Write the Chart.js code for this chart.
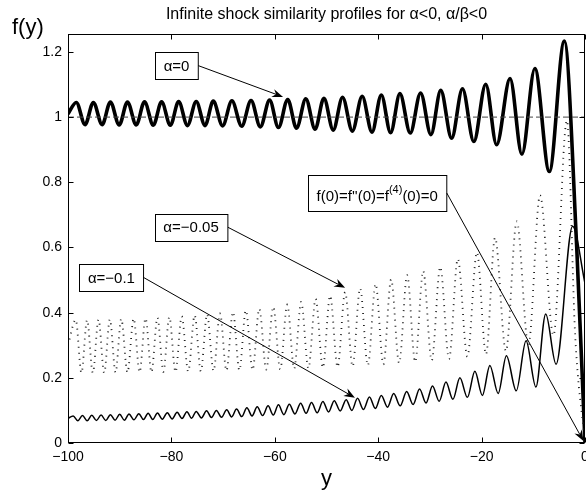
<!DOCTYPE html>
<html><head><meta charset="utf-8">
<script src="https://cdn.jsdelivr.net/npm/chart.js@4/dist/chart.umd.min.js"></script>
<style>html,body{margin:0;padding:0;background:#fff;overflow:hidden}#wrap{width:586px;height:493px;position:relative}</style>
</head><body><div id="wrap"><canvas id="c" width="586" height="493"></canvas></div>
<script>
const FONT = '"Liberation Sans", Arial, Helvetica, sans-serif';
const titleText = 'Infinite shock similarity profiles for α<0, α/β<0';
const yAxisTitle = 'f(y)';
const xAxisTitle = 'y';
const xTickValues = [-100, -80, -60, -40, -20, 0];
const xTickLabels = ['−100', '−80', '−60', '−40', '−20', '0'];
const yTickValues = [0, 0.2, 0.4, 0.6, 0.8, 1, 1.2];
const yTickLabels = ['0', '0.2', '0.4', '0.6', '0.8', '1', '1.2'];

// alpha = 0 (thick solid): start, alternating peaks/troughs, end
const alpha0X = [-100,
  -98.4, -96.7, -95.1, -93.4, -91.8, -90.1, -88.5, -86.8, -85.2, -83.5, -81.9, -80.2, -78.6, -76.9, -75.2, -73.5,
  -71.9, -70.1, -68.3, -66.4, -64.6, -62.8, -61.0, -59.3, -57.5, -55.8, -54.0, -52.2, -50.5, -48.7, -46.9, -45.0,
  -43.1, -41.2, -39.4, -37.6, -35.8, -33.8, -31.8, -29.8, -27.9, -25.8, -23.7, -21.5, -19.2, -17.1, -14.5, -12.2,
  -9.7, -6.9, -4.0,
  -1.6, 0];
const alpha0Y = [1.01,
  1.045, 0.977, 1.045, 0.977, 1.046, 0.976, 1.046, 0.976, 1.047, 0.975, 1.047, 0.975, 1.048, 0.974, 1.048, 0.974,
  1.049, 0.973, 1.050, 0.972, 1.051, 0.970, 1.052, 0.968, 1.054, 0.966, 1.056, 0.963, 1.058, 0.960, 1.061, 0.957,
  1.064, 0.954, 1.068, 0.952, 1.072, 0.951, 1.074, 0.946, 1.082, 0.935, 1.087, 0.925, 1.101, 0.915, 1.118, 0.886,
  1.149, 0.833, 1.233,
  0.6, 0];

// alpha = -0.05 (dotted)
const alpha005X = [-100,
  -98.5, -97.4, -96.3, -95.2, -94.1, -93.0, -91.9, -90.8, -89.7, -88.5, -87.3, -86.15, -85.0, -83.85, -82.7, -81.55,
  -80.4, -79.2, -78.0, -76.75, -75.5, -74.3, -73.1, -71.85, -70.6, -69.35, -68.1, -66.85, -65.6, -64.3, -63.0, -61.65,
  -60.3, -58.95, -57.6, -56.25, -54.9, -53.5, -52.1, -50.7, -49.3, -47.85, -46.4, -44.95, -43.5, -42.0, -40.5, -39.0,
  -37.5, -35.95, -34.4, -32.85, -31.3, -29.65, -28.0, -26.3, -24.6, -22.75, -20.9, -19.15, -17.4, -15.3, -13.2, -10.95,
  -8.7, -6.1, -3.5,
  -1.9, 0];
const alpha005Y = [0.30,
  0.378, 0.215, 0.378, 0.215, 0.379, 0.215, 0.380, 0.216, 0.381, 0.216, 0.382, 0.217, 0.383, 0.217, 0.385, 0.218,
  0.387, 0.218, 0.389, 0.219, 0.392, 0.220, 0.395, 0.221, 0.398, 0.222, 0.402, 0.223, 0.407, 0.224, 0.412, 0.225,
  0.418, 0.226, 0.425, 0.228, 0.433, 0.229, 0.442, 0.231, 0.452, 0.233, 0.463, 0.235, 0.475, 0.238, 0.488, 0.241,
  0.502, 0.245, 0.515, 0.249, 0.528, 0.253, 0.540, 0.258, 0.565, 0.265, 0.585, 0.272, 0.630, 0.282, 0.680, 0.300,
  0.760, 0.330, 0.990,
  0.33, 0];

// alpha = -0.1 (thin solid)
const alpha01X = [-100,
  -99.0, -98.1, -97.2, -96.3, -95.4, -94.5, -93.6, -92.7, -91.8, -90.9, -90.0, -89.1, -88.2, -87.25, -86.3, -85.4,
  -84.5, -83.6, -82.7, -81.75, -80.8, -79.85, -78.9, -77.95, -77.0, -76.1, -75.2, -74.2, -73.2, -72.25, -71.3, -70.3,
  -69.3, -68.35, -67.4, -66.4, -65.4, -64.4, -63.4, -62.35, -61.3, -60.3, -59.3, -58.25, -57.2, -56.1, -55.0, -53.95,
  -52.9, -51.8, -50.7, -49.6, -48.5, -47.35, -46.2, -45.1, -44.0, -42.85, -41.7, -40.55, -39.4, -38.2, -37.0, -35.75,
  -34.5, -33.25, -32.0, -30.75, -29.5, -28.2, -26.9, -25.55, -24.2, -22.75, -21.3, -19.85, -18.4, -16.8, -15.2, -13.3,
  -11.4, -9.5, -7.6, -5.6, -2.4,
  0];
const alpha01Y = [0.075,
  0.083, 0.068, 0.084, 0.068, 0.085, 0.069, 0.086, 0.069, 0.087, 0.070, 0.088, 0.070, 0.089, 0.071, 0.090, 0.072,
  0.091, 0.072, 0.092, 0.073, 0.093, 0.074, 0.094, 0.075, 0.096, 0.076, 0.097, 0.077, 0.099, 0.078, 0.100, 0.079,
  0.102, 0.080, 0.104, 0.081, 0.108, 0.083, 0.111, 0.084, 0.114, 0.086, 0.117, 0.087, 0.119, 0.089, 0.122, 0.091,
  0.124, 0.093, 0.127, 0.095, 0.130, 0.098, 0.133, 0.100, 0.137, 0.103, 0.141, 0.106, 0.146, 0.110, 0.152, 0.114,
  0.158, 0.118, 0.166, 0.123, 0.175, 0.128, 0.187, 0.134, 0.200, 0.140, 0.220, 0.146, 0.238, 0.152, 0.268, 0.160,
  0.314, 0.172, 0.396, 0.242, 0.665,
  0.49];

// reference line f = 1
const refX = [-100, 0];
const refY = [1, 1];

// annotation texts with box centre and arrow tip (data units)
const annotTexts = ['α=0', 'α=−0.05', 'α=−0.1', 'f(0)=f\'\'(0)=f|(4)|(0)=0'];
const annotBoxX = [-79.0, -76.2, -91.6, -40.2];
const annotBoxY = [1.158, 0.662, 0.508, 0.767];
const annotTipX = [-58.4, -46.4, -44.5, -0.3];
const annotTipY = [1.062, 0.476, 0.139, 0.006];

const pts = (xs, ys) => xs.map((x, i) => ({x: x, y: ys[i]}));

function drawArrow(ctx, x0, y0, x1, y1) {
  const ang = Math.atan2(y1 - y0, x1 - x0);
  const L = 11, W = 4.2, N = 7.5;
  ctx.beginPath();
  ctx.moveTo(x0, y0);
  ctx.lineTo(x1 - Math.cos(ang) * N, y1 - Math.sin(ang) * N);
  ctx.stroke();
  const bx = x1 - Math.cos(ang) * L, by = y1 - Math.sin(ang) * L;
  const nx = -Math.sin(ang), ny = Math.cos(ang);
  ctx.beginPath();
  ctx.moveTo(x1, y1);
  ctx.lineTo(bx + nx * W, by + ny * W);
  ctx.lineTo(x1 - Math.cos(ang) * N, y1 - Math.sin(ang) * N);
  ctx.lineTo(bx - nx * W, by - ny * W);
  ctx.closePath();
  ctx.fill();
}

const framePlugin = {
  id: 'frame',
  afterDatasetsDraw(chart) {
    const {ctx, chartArea: a, scales: {x, y}} = chart;
    ctx.save();
    ctx.strokeStyle = '#000';
    ctx.lineWidth = 1;
    const L = Math.round(a.left) + 0.5, R = Math.round(a.right) - 0.5;
    const T = Math.round(a.top) + 0.5, B = Math.round(a.bottom) - 0.5;
    ctx.strokeRect(L, T, R - L, B - T);
    ctx.beginPath();
    xTickValues.forEach(v => {
      const px = Math.round(x.getPixelForValue(v)) + 0.5;
      ctx.moveTo(px, B); ctx.lineTo(px, B - 5);
      ctx.moveTo(px, T); ctx.lineTo(px, T + 5);
    });
    yTickValues.forEach(v => {
      const py = Math.round(y.getPixelForValue(v)) + 0.5;
      ctx.moveTo(L, py); ctx.lineTo(L + 5, py);
      ctx.moveTo(R, py); ctx.lineTo(R - 5, py);
    });
    ctx.stroke();
    ctx.restore();
  },
  afterDraw(chart) {
    const {ctx, chartArea: a, scales: {x, y}} = chart;
    ctx.save();
    ctx.fillStyle = '#000';
    ctx.textBaseline = 'middle';
    ctx.textAlign = 'center';
    ctx.font = '16px ' + FONT;
    ctx.fillText(titleText, (a.left + a.right) / 2, 15);
    ctx.font = '22px ' + FONT;
    ctx.textAlign = 'left';
    ctx.textBaseline = 'alphabetic';
    ctx.fillText(yAxisTitle, 12, 34);
    ctx.textAlign = 'center';
    ctx.fillText(xAxisTitle, (a.left + a.right) / 2, 485);

    // annotations
    ctx.lineWidth = 1;
    ctx.strokeStyle = '#000';
    annotTexts.forEach((t, i) => {
      const parts = t.split('|');
      const fontN = '15px ' + FONT, fontS = '11px ' + FONT;
      let w = 0;
      parts.forEach((p, k) => { ctx.font = (k % 2 === 1) ? fontS : fontN; w += ctx.measureText(p).width; });
      const hasSup = parts.length > 1;
      const bw = w + 17, bh = hasSup ? 36 : 27;
      const cx = x.getPixelForValue(annotBoxX[i]), cy = y.getPixelForValue(annotBoxY[i]);
      const bl = Math.round(cx - bw / 2) + 0.5, bt = Math.round(cy - bh / 2) + 0.5;
      ctx.fillStyle = '#fff';
      ctx.fillRect(bl, bt, bw, bh);
      ctx.strokeRect(bl, bt, bw, bh);
      ctx.fillStyle = '#000';
      ctx.textAlign = 'left';
      ctx.textBaseline = 'middle';
      let tx = cx - w / 2;
      const ty = cy + (hasSup ? 3 : 0) + 1;
      parts.forEach((p, k) => {
        const sup = k % 2 === 1;
        ctx.font = sup ? fontS : fontN;
        ctx.fillText(p, tx, sup ? ty - 7 : ty);
        tx += ctx.measureText(p).width;
      });
      const sx = bl + bw, sy = cy;
      drawArrow(ctx, sx, sy, x.getPixelForValue(annotTipX[i]), y.getPixelForValue(annotTipY[i]));
    });
    ctx.restore();
  }
};

const tickFont = {family: FONT, size: 14};
new Chart(document.getElementById('c').getContext('2d'), {
  type: 'line',
  data: {
    datasets: [
      {label: 'f=1', data: pts(refX, refY), borderColor: '#444', borderWidth: 1, borderDash: [6, 3], pointRadius: 0, fill: false},
      {label: 'α=−0.05', data: pts(alpha005X, alpha005Y), borderColor: '#222', borderWidth: 1.8, borderDash: [1, 5], pointRadius: 0, fill: false, cubicInterpolationMode: 'monotone'},
      {label: 'α=−0.1', data: pts(alpha01X, alpha01Y), borderColor: '#000', borderWidth: 1.5, pointRadius: 0, fill: false, cubicInterpolationMode: 'monotone'},
      {label: 'α=0', data: pts(alpha0X, alpha0Y), borderColor: '#000', borderWidth: 3.6, pointRadius: 0, fill: false, cubicInterpolationMode: 'monotone'}
    ]
  },
  options: {
    animation: false,
    responsive: false,
    devicePixelRatio: 1,
    layout: {padding: {top: 34, right: 1, left: 0, bottom: 0}},
    plugins: {legend: {display: false}, tooltip: {enabled: false}, title: {display: false}},
    scales: {
      x: {
        type: 'linear', min: -100, max: 0,
        afterBuildTicks: s => { s.ticks = xTickValues.map(v => ({value: v})); },
        ticks: {autoSkip: false, maxRotation: 0, color: '#000', font: tickFont, padding: 6,
          callback: v => { const i = xTickValues.indexOf(v); return i >= 0 ? xTickLabels[i] : ''; }},
        grid: {display: false, drawTicks: false},
        border: {display: false},
        afterFit: s => { s.height = 50; s.paddingLeft = 0; s.paddingRight = 0; }
      },
      y: {
        type: 'linear', min: 0, max: 1.255,
        afterBuildTicks: s => { s.ticks = yTickValues.map(v => ({value: v})); },
        ticks: {autoSkip: false, color: '#000', font: tickFont, padding: 6,
          callback: v => { const i = yTickValues.indexOf(v); return i >= 0 ? yTickLabels[i] : ''; }},
        grid: {display: false, drawTicks: false},
        border: {display: false},
        afterFit: s => { s.width = 68; s.paddingTop = 0; s.paddingBottom = 0; }
      }
    }
  },
  plugins: [framePlugin]
});
</script></body></html>
